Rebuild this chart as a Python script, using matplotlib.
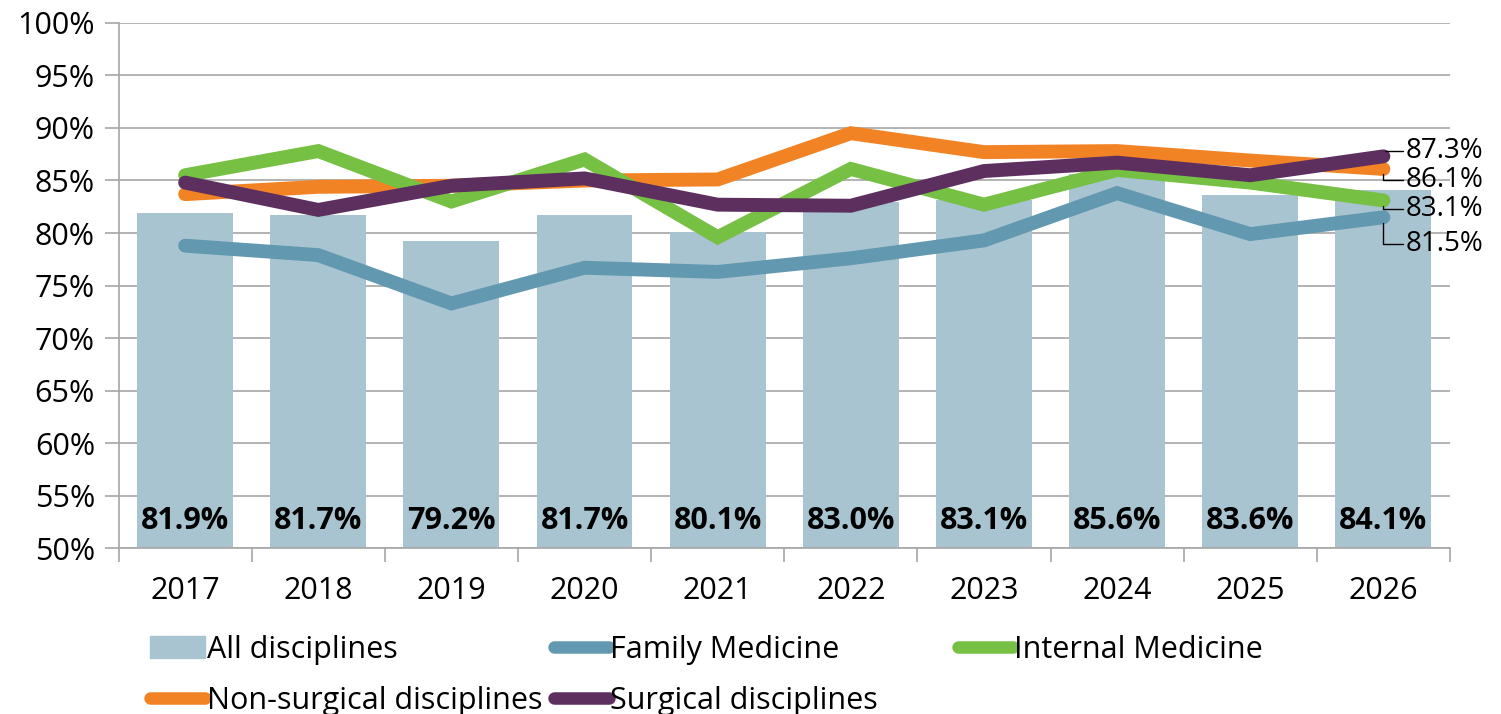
import numpy as np
import matplotlib.pyplot as plt
from matplotlib.patches import Patch
from matplotlib.lines import Line2D

plt.rcParams['font.family'] = ['Open Sans', 'DejaVu Sans']

years = ["2017", "2018", "2019", "2020", "2021", "2022", "2023", "2024", "2025", "2026"]
all_disc = [81.9, 81.7, 79.2, 81.7, 80.1, 83.0, 83.1, 85.6, 83.6, 84.1]
family = [78.8, 77.9, 73.3, 76.7, 76.3, 77.6, 79.3, 83.8, 79.9, 81.5]
internal = [85.5, 87.8, 83.0, 87.0, 79.6, 86.1, 82.7, 86.0, 84.8, 83.1]
nonsurg = [83.7, 84.4, 84.5, 85.0, 85.1, 89.5, 87.7, 87.8, 86.9, 86.1]
surgical = [84.8, 82.2, 84.5, 85.2, 82.7, 82.6, 85.9, 86.7, 85.5, 87.3]

c_bar = "#a8c4d0"
c_fam = "#6299b0"
c_int = "#76c043"
c_non = "#f28325"
c_sur = "#5c2f5e"

fs = 22

fig = plt.figure(figsize=(15.01, 7.14), dpi=100)
ax = fig.add_axes([0.079, 0.232, 0.887, 0.736])

x = np.arange(len(years))
ax.bar(x, all_disc, width=0.72, color=c_bar, zorder=2)
for xi, v in zip(x, all_disc):
    ax.text(xi, 52.6, f"{v:.1f}%", ha="center", va="center", fontsize=fs,
            fontweight="bold", color="black", zorder=5)

lw = 10
ax.plot(x, nonsurg, color=c_non, lw=lw, solid_capstyle="round", solid_joinstyle="miter", zorder=3)
ax.plot(x, internal, color=c_int, lw=lw, solid_capstyle="round", solid_joinstyle="miter", zorder=3)
ax.plot(x, family, color=c_fam, lw=lw, solid_capstyle="round", solid_joinstyle="miter", zorder=3)
ax.plot(x, surgical, color=c_sur, lw=lw, solid_capstyle="round", solid_joinstyle="miter", zorder=4)

# end labels with leader lines
end_labels = [(surgical[-1], 87.8), (nonsurg[-1], 85.05), (internal[-1], 82.3), (family[-1], 79.0)]
for v, ty in end_labels:
    ax.annotate(f"{v:.1f}%", xy=(x[-1], v), xytext=(x[-1] + 0.17, ty),
                fontsize=20, va="center", ha="left", zorder=6,
                arrowprops=dict(arrowstyle="-", color="black", lw=1,
                                connectionstyle="angle,angleA=0,angleB=90,rad=0",
                                shrinkA=0, shrinkB=4))

ax.set_xlim(-0.5, len(years) - 0.5)
ax.set_ylim(50, 100)
ax.set_yticks(np.arange(50, 101, 5))
ax.set_yticklabels([f"{t}%" for t in range(50, 101, 5)], fontsize=fs)
ax.set_xticks(x)
ax.set_xticklabels(years, fontsize=fs)
ax.set_xticks(np.arange(-0.5, len(years), 1), minor=True)
ax.tick_params(axis="x", which="major", length=0, pad=20)
ax.tick_params(axis="x", which="minor", length=10, color="#a6a6a6", width=1.2)
ax.tick_params(axis="y", length=10, color="#a6a6a6", width=1.2, pad=7)
ax.grid(axis="y", color="#a6a6a6", lw=1.2, zorder=0)
ax.set_axisbelow(True)
for s in ["top", "right"]:
    ax.spines[s].set_visible(False)
for s in ["left", "bottom"]:
    ax.spines[s].set_color("#a6a6a6")
    ax.spines[s].set_linewidth(1.2)

def lh(c):
    return Line2D([0], [0], color=c, lw=9, solid_capstyle="round")

# legend laid out as three fixed-width columns
columns = [
    ([Patch(color=c_bar), lh(c_non)], ["All disciplines", "Non-surgical disciplines"], 0.100),
    ([lh(c_fam), lh(c_sur)], ["Family Medicine", "Surgical disciplines"], 0.369),
    ([lh(c_int)], ["Internal Medicine"], 0.638),
]
for hs, ls, xpos in columns:
    leg = fig.legend(hs, ls, loc="upper left", bbox_to_anchor=(xpos, 0.111),
                     frameon=False, fontsize=fs, handlelength=1.8, handletextpad=0.05,
                     labelspacing=0.7, borderaxespad=0, borderpad=0)

fig.savefig("out.png", dpi=100)
